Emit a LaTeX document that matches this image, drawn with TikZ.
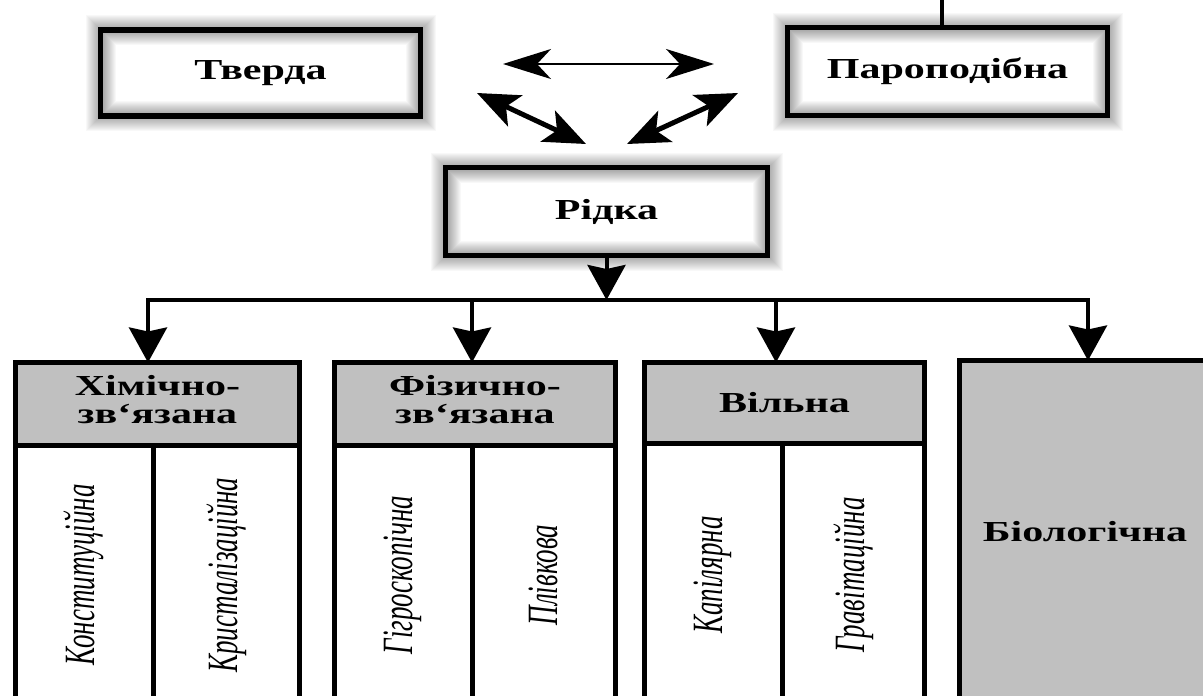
\documentclass[tikz,border=0pt]{standalone}
\usepackage{fontspec}
\setmainfont{Liberation Serif}
\usetikzlibrary{arrows.meta}
\definecolor{hdrgray}{RGB}{192,192,192}
% wide lettering used throughout the chart
\newcommand\widetxt[1]{\scalebox{1.45}[1]{#1}}
\newcommand\uptxt[1]{\scalebox{1.6}[1]{\rotatebox{90}{\itshape #1}}}
% soft halo around a state box
\newcommand\halo[1]{%
  \foreach \w in {2,4,...,30}
    \draw[black,opacity=.028,line width=\w pt] (#1.north west) rectangle (#1.south east);}
\begin{document}
\begin{tikzpicture}[x=1pt,y=-1pt,
  every node/.style={inner sep=0pt,outer sep=0pt},
  labelfont/.style={font=\fontsize{29}{28}\selectfont\bfseries},
  statebox/.style={labelfont,draw=black,line width=5.5pt,fill=white},
  headbox/.style={labelfont,draw=black,line width=5pt,fill=hdrgray},
  colbox/.style={draw=black,line width=5pt,fill=white,
    font=\fontsize{27}{27}\selectfont},
  tree/.style={line width=4pt},
  treetip/.style={-{Stealth[length=35pt,width=38pt,inset=4pt]}},
  swap/.style={line width=2.5pt,{Stealth[length=48pt,width=30pt,inset=14pt]}-{Stealth[length=48pt,width=30pt,inset=14pt]}},
  swapd/.style={line width=5pt,{Stealth[length=42pt,width=34pt,inset=10pt]}-{Stealth[length=42pt,width=34pt,inset=10pt]}}
]
\useasboundingbox (0,0) rectangle (1203,696);
\clip (0,0) rectangle (1203,696);

% states of water
\node[statebox,minimum width=320pt,minimum height=86pt] (tverda) at (260.5,73) {\widetxt{Тверда}};
\node[statebox,minimum width=320pt,minimum height=88pt] (paro) at (947.5,71.5) {\widetxt{Пароподібна}};
\node[statebox,minimum width=322pt,minimum height=88pt] (ridka) at (606.5,211.5) {\widetxt{Рідка}};
\halo{tverda}
\halo{paro}
\halo{ridka}

% transitions between the states
\coordinate (hA) at (503,64);
\coordinate (hB) at (714,64);
\coordinate (lA) at (477,93);
\coordinate (lB) at (586,144);
\coordinate (rA) at (738,93);
\coordinate (rB) at (627,144);
\draw[swap] (hA) -- (hB);
\draw[swapd] (lA) -- (lB);
\draw[swapd] (rA) -- (rB);

% line leaving the vapour box upwards
\coordinate (ptop) at (942,0);
\draw[tree] (paro.north -| ptop) -- (ptop);

% forms of liquid water
\node[headbox,minimum width=284pt,minimum height=82.5pt] (h1) at (157.5,403.75)
  {\widetxt{\begin{tabular}{@{}c@{}}Хімічно-\\зв`язана\end{tabular}}};
\node[colbox,minimum width=137.5pt,minimum height=260pt] (c11) at (84.25,575) {\uptxt{Конституційна}};
\node[colbox,minimum width=146.5pt,minimum height=260pt] (c12) at (226.25,575) {\uptxt{Кристалізаційна}};

\node[headbox,minimum width=281pt,minimum height=82.5pt] (h2) at (475,403.75)
  {\widetxt{\begin{tabular}{@{}c@{}}Фізично-\\зв`язана\end{tabular}}};
\node[colbox,minimum width=137.5pt,minimum height=260pt] (c21) at (403.25,575) {\uptxt{Гігроскопічна}};
\node[colbox,minimum width=143.5pt,minimum height=260pt] (c22) at (543.75,575) {\uptxt{Плівкова}};

\node[headbox,minimum width=280pt,minimum height=80.5pt] (h3) at (784.5,402.75) {\widetxt{Вільна}};
\node[colbox,minimum width=137.5pt,minimum height=264pt] (c31) at (713.25,575) {\uptxt{Капілярна}};
\node[colbox,minimum width=142.5pt,minimum height=264pt] (c32) at (853.5,575) {\uptxt{Гравітаційна}};

\node[headbox,minimum width=251pt,minimum height=359.5pt] (h4) at (1085,540.25)
  {\raisebox{17pt}{\widetxt{Біологічна}}};

% distribution tree
\coordinate (bus) at (606.5,300);
\coordinate (b1) at (148,300);
\coordinate (b2) at (472,300);
\coordinate (b3) at (776,300);
\coordinate (b4) at (1088,300);
\draw[tree,treetip] (ridka.south) -- (ridka.south |- bus);
\draw[tree,line cap=rect] (b1) -- (b4);
\draw[tree,treetip] (b1) -- (b1 |- h1.north);
\draw[tree,treetip] (b2) -- (b2 |- h2.north);
\draw[tree,treetip] (b3) -- (b3 |- h3.north);
\draw[tree,treetip] (b4) -- (b4 |- h4.north);
\end{tikzpicture}
\end{document}
